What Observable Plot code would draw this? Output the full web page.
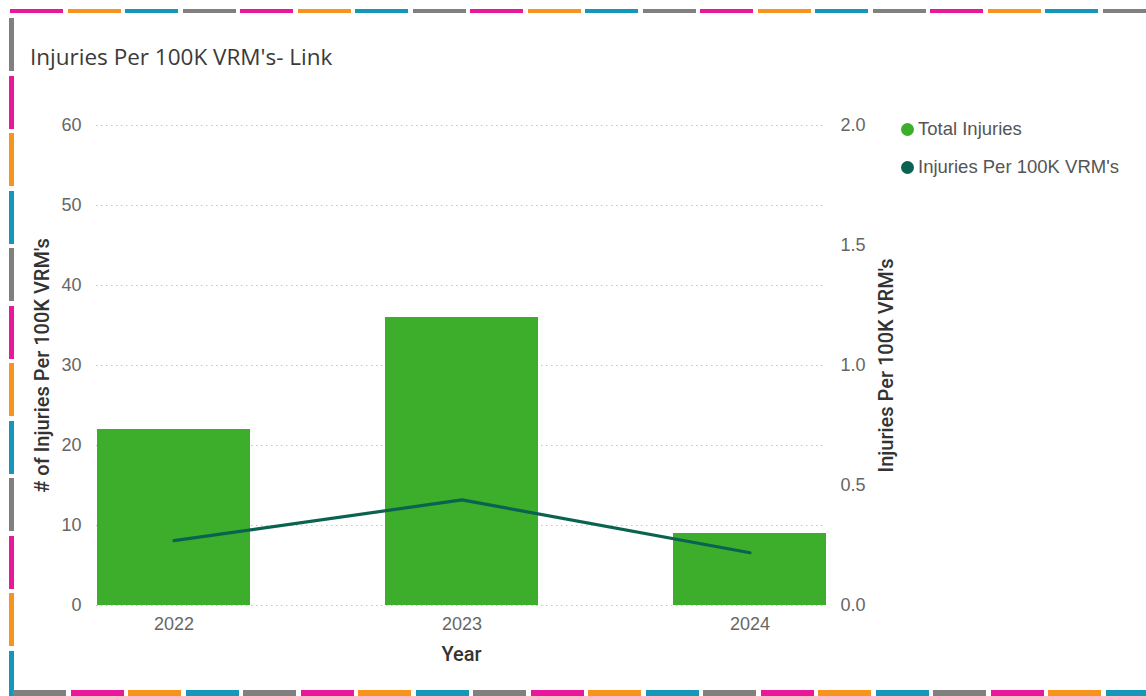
<!DOCTYPE html>
<html>
<head>
<meta charset="utf-8">
<script src="https://cdn.jsdelivr.net/npm/d3@7"></script>
<script src="https://cdn.jsdelivr.net/npm/@observablehq/plot@0.6"></script>
<style>
  body { margin: 0; background: #fff; }
  #wrap { position: relative; width: 1146px; height: 696px; overflow: hidden; background: #fff; }
  #chart { position: absolute; left: 0; top: 0; }
  .bt, .bb { position: absolute; }
  .bt { left: 10px; top: 9px; width: 1136px; height: 4px;
    background: repeating-linear-gradient(to right,
      #e8189a 0 53px, transparent 53px 57.5px,
      #f7941d 57.5px 110.5px, transparent 110.5px 115px,
      #1497b8 115px 168px, transparent 168px 172.5px,
      #808080 172.5px 225.5px, transparent 225.5px 230px); }
  .bl { position: absolute; left: 9px; top: 18px; width: 5px; height: 678px;
    background: repeating-linear-gradient(to bottom,
      #808080 0 53px, transparent 53px 57.5px,
      #e8189a 57.5px 110.5px, transparent 110.5px 115px,
      #f7941d 115px 168px, transparent 168px 172.5px,
      #1497b8 172.5px 225.5px, transparent 225.5px 230px); }
  .bb { left: 13px; top: 690px; width: 1133px; height: 6px;
    background: repeating-linear-gradient(to right,
      #808080 0 53px, transparent 53px 57.5px,
      #e8189a 57.5px 110.5px, transparent 110.5px 115px,
      #f7941d 115px 168px, transparent 168px 172.5px,
      #1497b8 172.5px 225.5px, transparent 225.5px 230px); }
  #title { position: absolute; left: 30px; top: 41px; font-family: "Open Sans", "Noto Sans", sans-serif;
    font-size: 22.5px; color: #3a3a3a; white-space: nowrap; }
  #legend { position: absolute; left: 901px; top: 117px; font-family: "Liberation Sans", Arial, sans-serif;
    font-size: 18.5px; color: #555; }
  #legend .item { display: flex; align-items: center; height: 24px; margin-bottom: 14px; white-space: nowrap; }
  #legend .dot { display: inline-block; width: 13px; height: 13px; border-radius: 50%; margin-right: 4px; }
</style>
</head>
<body>
<div id="wrap">
  <div class="bt"></div>
  <div class="bl"></div>
  <div class="bb"></div>
  <div id="title"></div>
  <div id="legend"></div>
  <div id="chart"></div>
</div>
<script>
// ---- data ----
const years = ["2022", "2023", "2024"];
const totalInjuries = [22, 36, 9];
const injuriesPer100K = [0.27, 0.44, 0.22];
const leftTicks = [0, 10, 20, 30, 40, 50, 60];
const rightTicks = [0, 0.5, 1.0, 1.5, 2.0];
const seriesNames = ["Total Injuries", "Injuries Per 100K VRM's"];
const seriesColors = ["#3dae2b", "#0a6350"];
const titleText = "Injuries Per 100K VRM's- Link";

const leftMax = 60, rightMax = 2.0;
const k = leftMax / rightMax;

const data = years.map((y, i) => ({ year: y, injuries: totalInjuries[i], rate: injuriesPer100K[i] }));

document.getElementById("title").textContent = titleText;
const legend = d3.select("#legend");
seriesNames.forEach((name, i) => {
  const it = legend.append("div").attr("class", "item");
  it.append("span").attr("class", "dot").style("background", seriesColors[i]);
  it.append("span").text(name);
});

const chart = Plot.plot({
  width: 1146,
  height: 696,
  marginTop: 125,
  marginBottom: 91,
  marginLeft: 96,
  marginRight: 320,
  style: { fontFamily: "'Liberation Sans', Arial, sans-serif", fontSize: "18px", color: "#666", background: "transparent", overflow: "visible" },
  x: { type: "band", domain: years, paddingInner: 0.47, paddingOuter: 0 },
  y: { domain: [0, leftMax] },
  marks: [
    Plot.gridY(leftTicks, { stroke: "#c4c4c4", strokeOpacity: 1, strokeDasharray: "1.5,3.5", strokeWidth: 1.2 }),
    Plot.barY(data, { x: "year", y: "injuries", fill: seriesColors[0] }),
    Plot.line(data, { x: "year", y: d => d.rate * k, stroke: seriesColors[1], strokeWidth: 3.2 }),
    Plot.axisY(leftTicks, { anchor: "left", tickSize: 0, tickPadding: 15, fill: "#666",
      label: "# of Injuries Per 100K VRM's", labelAnchor: "center", labelArrow: "none", labelOffset: 62 }),
    Plot.axisY(rightTicks.map(v => v * k), { anchor: "right", tickSize: 0, tickPadding: 14, fill: "#666",
      tickFormat: d => (d / k).toFixed(1),
      label: "Injuries Per 100K VRM's", labelAnchor: "center", labelArrow: "none", labelOffset: 66 }),
    Plot.axisX({ tickSize: 0, tickPadding: 12, fill: "#666",
      label: "Year", labelAnchor: "center", labelArrow: "none", labelOffset: 55 })
  ]
});

document.getElementById("chart").appendChild(chart);

d3.select(chart).selectAll('g[aria-label="y-axis label"] text, g[aria-label="x-axis label"] text')
  .attr("fill", "#333")
  .style("font-family", "Roboto, 'Liberation Sans', sans-serif")
  .style("font-weight", "500")
  .style("font-size", "20px");
</script>
</body>
</html>
